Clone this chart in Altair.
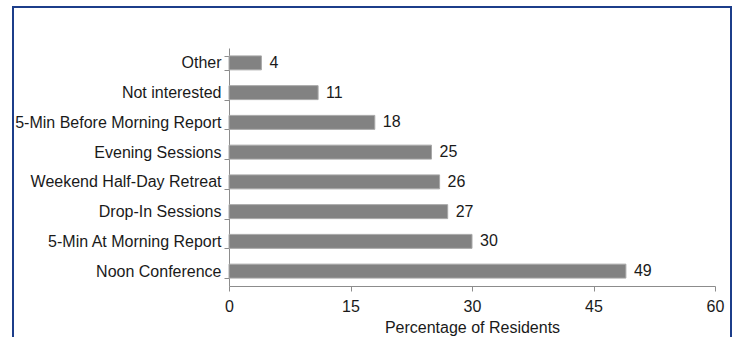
import altair as alt
import pandas as pd

# Survey responses: preferred session formats
categories = [
    "Other",
    "Not interested",
    "5-Min Before Morning Report",
    "Evening Sessions",
    "Weekend Half-Day Retreat",
    "Drop-In Sessions",
    "5-Min At Morning Report",
    "Noon Conference",
]
percentages = [4, 11, 18, 25, 26, 27, 30, 49]

df = pd.DataFrame({"option": categories, "pct": percentages})

FONT = "Liberation Sans"
FS = 16
AXIS_GREY = "#8c8c8c"
TEXT = "#1a1a1a"

y_enc = alt.Y(
    "option:N",
    sort=categories,
    title=None,
    scale=alt.Scale(paddingInner=0.53, paddingOuter=0.265),
    axis=alt.Axis(
        tickBand="extent",
        domainColor=AXIS_GREY,
        tickColor=AXIS_GREY,
        tickSize=5,
        labelPadding=3,
        labelFont=FONT,
        labelFontSize=FS,
        labelColor=TEXT,
        labelLimit=400,
    ),
)

x_enc = alt.X(
    "pct:Q",
    title="Percentage of Residents",
    scale=alt.Scale(domain=[0, 60], nice=False),
    axis=alt.Axis(
        values=[0, 15, 30, 45, 60],
        grid=False,
        labelFlush=False,
        domainColor=AXIS_GREY,
        tickColor=AXIS_GREY,
        tickSize=5,
        labelPadding=7,
        labelFont=FONT,
        labelFontSize=FS,
        labelColor=TEXT,
        titleFont=FONT,
        titleFontSize=FS,
        titleFontWeight="normal",
        titleColor=TEXT,
        titlePadding=5,
    ),
)

bars = alt.Chart(df).mark_bar(
    color="#828282", stroke="#a8a8a8", strokeWidth=1
).encode(x=x_enc, y=y_enc)

labels = alt.Chart(df).mark_text(
    align="left", baseline="middle", dx=8, font=FONT, fontSize=FS, color=TEXT
).encode(x="pct:Q", y=alt.Y("option:N", sort=categories), text="pct:Q")

# Blue frame around the figure panel
frame = alt.Chart(df).mark_rect(
    fill=None, stroke="#1c3d8a", strokeWidth=2, clip=False
).encode(
    x=alt.value(-216), x2=alt.value(502), y=alt.value(-41), y2=alt.value(300)
)

chart = (
    alt.layer(frame, bars, labels)
    .properties(
        width=486,
        height=238,
        autosize=alt.AutoSizeParams(type="none"),
        padding={"left": 229, "top": 48, "right": 24, "bottom": 51},
        background="white",
    )
    .configure_view(stroke=None)
)

chart.save("out.html", embed_options={"renderer": "svg", "actions": False})
